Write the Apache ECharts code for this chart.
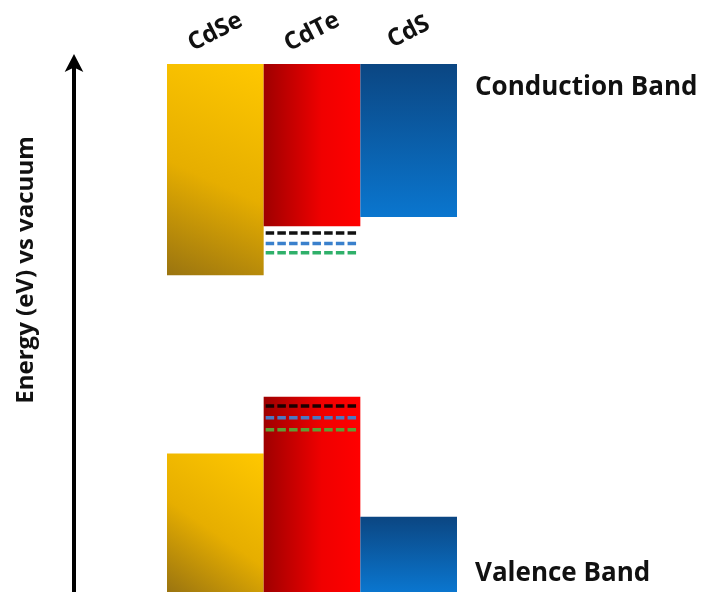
<!DOCTYPE html>
<html>
<head>
<meta charset="utf-8">
<script src="https://cdn.jsdelivr.net/npm/echarts@6/dist/echarts.min.js"></script>
<style>
  html, body { margin: 0; padding: 0; background: #fff; }
  #chart { width: 706px; height: 592px; }
</style>
</head>
<body>
<div id="chart"></div>
<script>
// materials, left to right
const materials = ['CdSe', 'CdTe', 'CdS'];
// energy scale (eV vs vacuum), arbitrary window
const energyTop = -3.0;
const energyBottom = -7.0;
// band edges
const conductionEdge = [-4.60, -4.23, -4.16];
const valenceEdge = [-5.95, -5.52, -6.43];
// defect levels drawn inside the CdTe column
const cbLevels = [-4.28, -4.36, -4.43];
const vbLevels = [-5.59, -5.68, -5.77];
const levelColors = ['#111111', '#3a80cc', '#2fb06a'];
const vbLevelColors = ['#1a0000', '#4a78c4', '#5f9e34'];

const chart = echarts.init(document.getElementById('chart'));

// one gradient per material
function fillFor(i) {
    if (i === 0) {
        return new echarts.graphic.LinearGradient(1, 0, 0, 1, [
            { offset: 0, color: '#ffc800' },
            { offset: 0.55, color: '#e6ae00' },
            { offset: 1, color: '#9a7410' }
        ]);
    }
    if (i === 1) {
        return new echarts.graphic.LinearGradient(0, 0, 1, 0, [
            { offset: 0, color: '#9e0000' },
            { offset: 0.6, color: '#f00000' },
            { offset: 1, color: '#ff0000' }
        ]);
    }
    return new echarts.graphic.LinearGradient(0, 0, 0, 1, [
        { offset: 0, color: '#0b4682' },
        { offset: 1, color: '#0a76cf' }
    ]);
}

const bandData = [];
materials.forEach((m, i) => {
    bandData.push([i, energyTop, conductionEdge[i]]);
    bandData.push([i, valenceEdge[i], energyBottom]);
});

const levelData = [];
cbLevels.forEach((v, k) => levelData.push([1, v, levelColors[k]]));
vbLevels.forEach((v, k) => levelData.push([1, v, vbLevelColors[k]]));

function renderBand(params, api) {
    const c = api.value(0);
    const p1 = api.coord([c, api.value(1)]);
    const p2 = api.coord([c, api.value(2)]);
    const w = api.size([1, 0])[0];
    return {
        type: 'rect',
        shape: { x: p1[0] - w / 2, y: p1[1], width: w, height: p2[1] - p1[1] },
        style: { fill: fillFor(c) }
    };
}

function renderLevel(params, api) {
    const c = api.value(0);
    const p = api.coord([c, api.value(1)]);
    const w = api.size([1, 0])[0];
    return {
        type: 'line',
        shape: { x1: p[0] - w / 2 + 2, y1: p[1], x2: p[0] + w / 2 - 3, y2: p[1] },
        style: {
            stroke: levelData[params.dataIndex][2],
            lineWidth: 3.5,
            lineDash: [8.5, 3.2]
        }
    };
}

const option = {
    animation: false,
    grid: { left: 167, right: 249, top: 64, bottom: 0 },
    xAxis: {
        type: 'category',
        position: 'top',
        data: materials,
        axisLine: { show: false },
        axisTick: { show: false },
        axisLabel: {
            rotate: -27,
            margin: 32,
            align: 'center',
            verticalAlign: 'middle',
            fontFamily: 'Open Sans',
            fontWeight: 'bold',
            fontSize: 24,
            color: '#111'
        }
    },
    yAxis: {
        type: 'value',
        min: energyBottom,
        max: energyTop,
        offset: 93,
        axisLine: {
            show: true,
            symbol: ['none', 'arrow'],
            symbolSize: [14, 18],
            symbolOffset: [0, 10],
            lineStyle: { color: '#000', width: 4 }
        },
        axisTick: { show: false },
        axisLabel: { show: false },
        splitLine: { show: false }
    },
    graphic: [
        {
            type: 'text',
            x: 26,
            y: 270,
            rotation: Math.PI / 2,
            style: {
                text: 'Energy (eV) vs vacuum',
                font: 'bold 24px "Open Sans"',
                fill: '#111',
                align: 'center',
                verticalAlign: 'middle'
            }
        },
        {
            type: 'text',
            left: 475,
            top: 75,
            style: {
                text: 'Conduction Band',
                font: 'bold 26px "Open Sans"',
                fill: '#111'
            }
        },
        {
            type: 'text',
            left: 475,
            top: 561,
            style: {
                text: 'Valence Band',
                font: 'bold 26px "Open Sans"',
                fill: '#111'
            }
        }
    ],
    series: [
        {
            type: 'custom',
            renderItem: renderBand,
            encode: { x: 0, y: [1, 2] },
            data: bandData
        },
        {
            type: 'custom',
            renderItem: renderLevel,
            encode: { x: 0, y: 1 },
            data: levelData.map(d => [d[0], d[1]])
        }
    ]
};
chart.setOption(option);
</script>
</body>
</html>
